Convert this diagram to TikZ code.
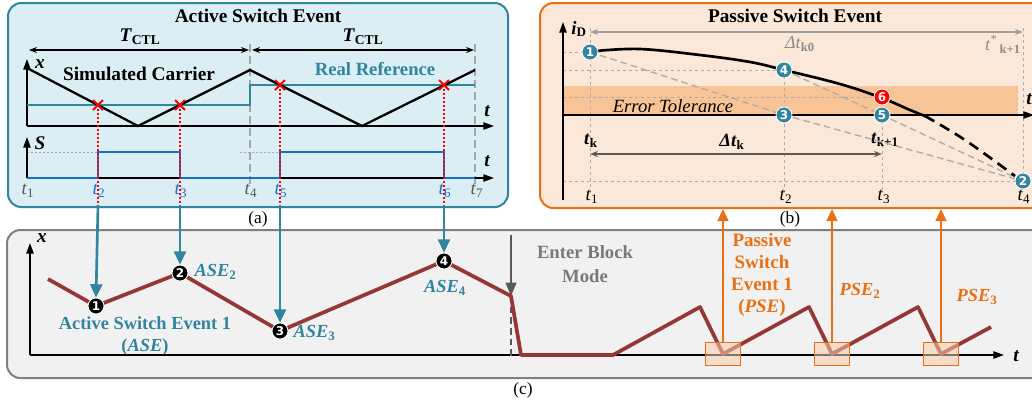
\documentclass[tikz,border=0pt]{standalone}
\usepackage{fontspec}
\setmainfont{Liberation Serif}
\newfontfamily\numfont{DejaVu Sans}
\usetikzlibrary{arrows.meta,shapes.misc}
\definecolor{teal1}{RGB}{49,133,156}
\definecolor{panela}{RGB}{218,238,243}
\definecolor{panelb}{RGB}{252,232,216}
\definecolor{bandc}{RGB}{248,196,150}
\definecolor{orng}{RGB}{232,112,20}
\definecolor{brwn}{RGB}{149,55,53}
\definecolor{sblue}{RGB}{20,112,200}
\definecolor{panelc}{RGB}{241,241,241}
\definecolor{dgray}{RGB}{89,89,89}
\begin{document}
\begin{tikzpicture}[x=0.75pt,y=-0.75pt,
  ttl/.style={font=\bfseries\fontsize{14.5}{16}\selectfont},
  lab/.style={font=\bfseries\fontsize{13.8}{16.5}\selectfont, align=center},
  tl/.style={font=\fontsize{14}{15}\selectfont},
  axl/.style={font=\bfseries\itshape\fontsize{14.5}{15}\selectfont},
  captxt/.style={font=\fontsize{13}{14}\selectfont},
  axarr/.style={line width=1.1pt, -{Triangle[length=8pt,width=5.5pt]}},
  num/.style={circle, inner sep=0pt, minimum size=12pt, draw=white, line width=0.6pt, text=white, font=\numfont\bfseries\fontsize{9}{9}\selectfont},
  numb/.style={num, fill=black},
  numt/.style={num, fill=teal1},
  numr/.style={num, fill=red},
  dimarr/.style={{Stealth[length=6pt,width=4.5pt]}-{Stealth[length=6pt,width=4.5pt]}, line width=0.8pt},
  gdash/.style={gray!65, line width=0.6pt, dash pattern=on 2.5pt off 2pt},
  vdash/.style={gray!70, line width=0.8pt, dash pattern=on 6pt off 3pt},
  rdot/.style={red, line width=0.8pt, dash pattern=on 1.5pt off 1.5pt},
  xmark/.style={cross out, draw=red, line width=1.5pt, minimum size=6pt, inner sep=0pt},
  tarr/.style={teal1, line width=2pt, -{Triangle[length=10pt,width=9pt]}},
  oarr/.style={orng, line width=1.8pt, -{Triangle[length=9pt,width=8pt]}},
  obox/.style={draw=orng, line width=1pt, fill=orng!35, fill opacity=0.55, minimum width=26pt, minimum height=17pt, inner sep=0pt}
]
\useasboundingbox (0,0) rectangle (1032,405);
\fill[white] (0,0) rectangle (1032,405);

% ================= Panel (a) =================
\draw[teal1, line width=1.5pt, fill=panela, rounded corners=10pt] (8,3) rectangle (508,207);
\node[ttl] (ta) at (258,16) {Active Switch Event};
\node[captxt] (capa) at (258,219) {(a)};

% T_CTL dimension arrows
\coordinate (d1) at (29,50); \coordinate (d2) at (249,50);
\coordinate (d3) at (252,50); \coordinate (d4) at (474,50);
\draw[dimarr] (d1) -- (d2);
\draw[dimarr] (d3) -- (d4);
\node[font=\bfseries\fontsize{14.5}{15}\selectfont] (tc1) at (140,37) {\textit{T}\textsubscript{CTL}};
\node[font=\bfseries\fontsize{14.5}{15}\selectfont] (tc2) at (363,37) {\textit{T}\textsubscript{CTL}};

% dashed verticals t4, t7
\draw[vdash] (250,44) -- (250,186);
\draw[vdash] (475,44) -- (475,186);

% upper axes
\coordinate (ao) at (27,126);
\coordinate (ay) at (27,59);
\coordinate (ax) at (494,126);
\draw[axarr] (ao) -- (ay);
\draw[axarr] (ao) -- (ax);
\node[axl] (lx) at (40,64) {x};
\node[axl] (lt1) at (487,111) {t};

% real reference
\draw[teal1, line width=2pt] (27,105) -- (250,105) -- (250,85) -- (475,85);
% carrier
\draw[black, line width=1.7pt] (27,68) -- (138,126) -- (250,70) -- (362,126) -- (475,70);
\node[ttl] (sc) at (139,74) {Simulated Carrier};
\node[ttl, font=\bfseries\fontsize{14}{15}\selectfont, text=teal1] (rr) at (375,69) {Real Reference};

% lower axes
\coordinate (bo) at (27,178);
\coordinate (by) at (27,137);
\coordinate (bx) at (494,178);
\draw[gray!70, line width=0.6pt, dash pattern=on 1.5pt off 1.5pt] (27,152) -- (98,152);
\draw[gray!70, line width=0.6pt, dash pattern=on 1.5pt off 1.5pt] (240,152) -- (280,152);
\draw[axarr] (bo) -- (by);
\draw[axarr] (bo) -- (bx);
\node[axl] (ls) at (40,143) {S};
\node[axl] (lt2) at (487,161) {t};
\draw[sblue, line width=1.8pt] (27,178) -- (98,178) -- (98,152) -- (180,152) -- (180,178) -- (280,178) -- (280,152) -- (444,152) -- (444,178) -- (475,178);

% red dotted event lines and marks
\coordinate (e1) at (98,205); \coordinate (e2) at (180,205);
\coordinate (e3) at (280,205); \coordinate (e4) at (444,205);
\node[xmark] (m1) at (98,105) {};
\node[xmark] (m2) at (180,105) {};
\node[xmark] (m3) at (280,85) {};
\node[xmark] (m4) at (444,85) {};
\draw[rdot] (m1.center) -- (e1);
\draw[rdot] (m2.center) -- (e2);
\draw[rdot] (m3.center) -- (e3);
\draw[rdot] (m4.center) -- (e4);

% time labels
\node[tl, text=dgray] (at1) at (28,191) {\textit{t}\textsubscript{1}};
\node[tl, text=sblue] (at2) at (99,191) {\textit{t}\textsubscript{2}};
\node[tl, text=sblue] (at3) at (181,191) {\textit{t}\textsubscript{3}};
\node[tl, text=dgray] (at4) at (251,191) {\textit{t}\textsubscript{4}};
\node[tl, text=sblue] (at5) at (281,191) {\textit{t}\textsubscript{5}};
\node[tl, text=sblue] (at6) at (445,191) {\textit{t}\textsubscript{6}};
\node[tl, text=dgray] (at7) at (477,191) {\textit{t}\textsubscript{7}};

% ================= Panel (b) =================
\draw[orng, line width=1.5pt, fill=panelb, rounded corners=10pt] (540,3) rectangle (1046,208);
\node[ttl] (tb) at (795,16) {Passive Switch Event};
\node[captxt] (capb) at (790,219) {(b)};

\fill[bandc] (563,86) rectangle (1018,115);
\node[font=\itshape\fontsize{14}{15}\selectfont] (et) at (673,106) {Error Tolerance};

% guide lines
\draw[gdash] (563,52) -- (590,52);
\draw[gdash] (563,70) -- (784,70);
\draw[gdash] (563,97) -- (882,97);
\draw[gdash] (563,181) -- (1023,181);
\draw[gdash] (590,28) -- (590,192);
\draw[gdash] (784,70) -- (784,192);
\draw[gdash] (882,97) -- (882,192);
\draw[gdash] (1023,28) -- (1023,185);

% axes
\coordinate (co) at (563,200);
\coordinate (cy) at (563,22);
\coordinate (cz) at (563,115);
\coordinate (cx) at (1034,115);
\draw[axarr] (co) -- (cy);
\draw[axarr] (cz) -- (cx);
\node[font=\bfseries\fontsize{14}{15}\selectfont] (lid) at (579,29) {\textit{i}\textsubscript{D}};
\node[axl] (lt3) at (1029,99) {t};

% delta t_k0 arrow
\coordinate (k1) at (590,32); \coordinate (k2) at (1023,32);
\draw[gray!75, {Stealth[length=6pt,width=4.5pt]}-{Stealth[length=6pt,width=4.5pt]}, line width=0.8pt] (k1) -- (k2);
\node[text=gray!90, font=\fontsize{13.5}{14}\selectfont] (dk0) at (800,44) {\textit{Δt}\textsubscript{\textbf{k0}}};
\node[text=gray!90, font=\fontsize{13.5}{14}\selectfont] (tks) at (1003,44) {\textit{t}\textsuperscript{*}\textsubscript{\,\textbf{k+1}}};

% delta t_k arrow
\coordinate (k3) at (590,154); \coordinate (k4) at (882,154);
\draw[dgray, {Stealth[length=6pt,width=4.5pt]}-{Stealth[length=6pt,width=4.5pt]}, line width=1pt] (k3) -- (k4);
\node[font=\bfseries\fontsize{14}{15}\selectfont] (ltk) at (591,141) {\textit{t}\textsubscript{k}};
\node[font=\bfseries\fontsize{14}{15}\selectfont] (ldtk) at (732,142) {\textit{Δt}\textsubscript{k}};
\node[font=\bfseries\fontsize{14}{15}\selectfont] (ltk1) at (885,140) {\textit{t}\textsubscript{k+1}};

% point positions
\coordinate (q1) at (590,52);
\coordinate (q2) at (1023,181);
\coordinate (q3) at (784,115);
\coordinate (q4) at (784,70);
\coordinate (q5) at (882,115);
\coordinate (q6) at (882,97);

% gray dashed chords
\draw[gray!65, line width=1pt, dash pattern=on 5pt off 3pt] (q1) -- (q3) -- (q2);
\draw[gray!65, line width=1pt, dash pattern=on 5pt off 3pt] (q4) -- (q5) -- (q2);

% current curve
\draw[black, line width=2pt] plot[smooth, tension=0.6] coordinates {(596,51) (640,49) (700,55) (750,62) (784,70) (840,84) (882,98) (910,110) (925,116)};
\draw[black, line width=2pt, dash pattern=on 8pt off 5pt] plot[smooth, tension=0.6] coordinates {(925,116) (965,140) (1015,176)};

\node[numt] (n1) at (q1) {1};
\node[numt] (n2) at (q2) {2};
\node[numt] (n3) at (q3) {3};
\node[numt] (n4) at (q4) {4};
\node[numt] (n5) at (q5) {5};
\node[numr] (n6) at (q6) {6};

\node[tl] (bt1) at (592,197) {\textit{t}\textsubscript{1}};
\node[tl] (bt2) at (786,197) {\textit{t}\textsubscript{2}};
\node[tl] (bt3) at (884,197) {\textit{t}\textsubscript{3}};
\node[tl] (bt4) at (1024,197) {\textit{t}\textsubscript{4}};

% ================= Panel (c) =================
\draw[gray, line width=1.5pt, fill=panelc, rounded corners=10pt] (7,230) rectangle (1046,378);
\node[captxt] (capc) at (523,390) {(c)};

\coordinate (go) at (30,355);
\coordinate (gy) at (30,243);
\coordinate (gx) at (1004,355);
\draw[axarr] (go) -- (gy);
\draw[axarr] (go) -- (gx);
\node[axl] (lx2) at (42,238) {x};
\node[axl] (lt4) at (1016,356) {t};

% block mode marker
\coordinate (bm0) at (511,235);
\coordinate (bm1) at (511,296);
\coordinate (bm2) at (511,356);
\draw[dgray, line width=1.6pt, dash pattern=on 5pt off 3pt] (bm1) -- (bm2);
\draw[dgray, line width=1.5pt, -{Triangle[length=10pt,width=8pt]}] (bm0) -- (bm1);
\node[lab, text=gray!95!black, font=\bfseries\fontsize{14}{18}\selectfont] (ebm) at (585,264) {Enter Block\\Mode};

% waveform
\coordinate (p1) at (96,306);
\coordinate (p2) at (180,273);
\coordinate (p3) at (280,331);
\coordinate (p4) at (444,261);
\coordinate (v1) at (723,354);
\coordinate (v2) at (832,354);
\coordinate (v3) at (941,354);
\draw[brwn, line width=2.8pt, line join=round] (48,279) -- (p1) -- (p2) -- (p3) -- (p4) -- (bm1) -- (521,355) -- (613,355) -- (700,307) -- (v1) -- (809,307) -- (v2) -- (918,307) -- (v3) -- (991,327);

\node[numb] (c1) at (p1) {1};
\node[numb] (c2) at (p2) {2};
\node[numb] (c3) at (p3) {3};
\node[numb] (c4) at (p4) {4};

\draw[tarr] (e1) -- (c1.north);
\draw[tarr] (e2) -- (c2.north);
\draw[tarr] (e3) -- (c3.north);
\draw[tarr] (e4) -- (c4.north);

\node[lab, text=teal1] (ase1) at (145,336) {Active Switch Event 1\\(\textit{ASE})};
\node[lab, text=teal1, anchor=west] (ase2) at (190,272) {\textit{ASE}\textsubscript{2}};
\node[lab, text=teal1, anchor=west] (ase3) at (289,333) {\textit{ASE}\textsubscript{3}};
\node[lab, text=teal1] (ase4) at (445,288) {\textit{ASE}\textsubscript{4}};

% passive switch boxes and arrows
\node[obox] (b1) at (v1) {};
\node[obox] (b2) at (v2) {};
\node[obox] (b3) at (v3) {};
\coordinate (u1) at (723,209);
\coordinate (u2) at (832,209);
\coordinate (u3) at (941,209);
\draw[oarr] (b1.north) -- (u1);
\draw[oarr] (b2.north) -- (u2);
\draw[oarr] (b3.north) -- (u3);

\node[lab, text=orng, font=\bfseries\fontsize{14.2}{16.5}\selectfont] (pse1) at (762,275) {Passive\\Switch\\Event 1\\(\textit{PSE})};
\node[lab, text=orng] (pse2) at (860,291) {\textit{PSE}\textsubscript{2}};
\node[lab, text=orng] (pse3) at (977,297) {\textit{PSE}\textsubscript{3}};
\end{tikzpicture}
\end{document}
